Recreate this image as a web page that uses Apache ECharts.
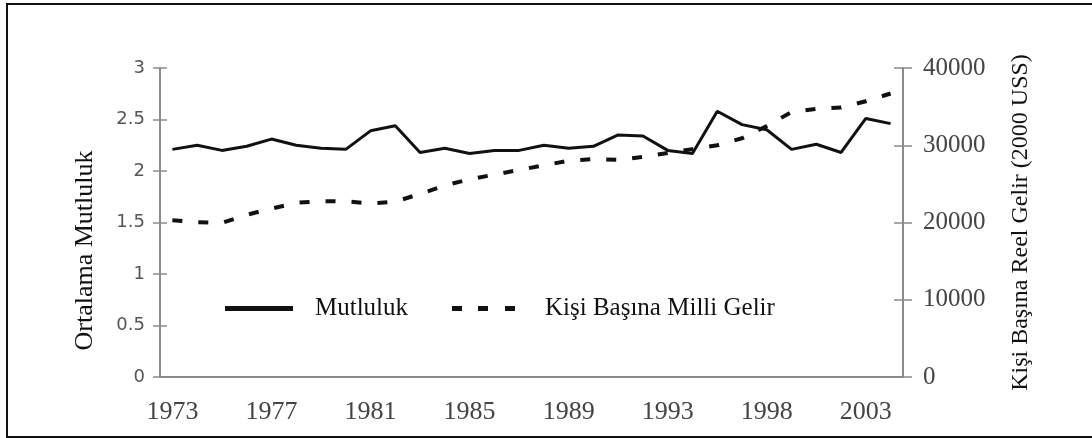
<!DOCTYPE html>
<html>
<head>
<meta charset="utf-8">
<script src="https://cdn.jsdelivr.net/npm/echarts@6/dist/echarts.min.js"></script>
<style>
  html, body { margin: 0; padding: 0; background: #fff; }
  #chart { width: 1092px; height: 438px; }
</style>
</head>
<body>
<div id="chart"></div>
<script>
  // yillar (some years are skipped in the source series)
  var years = ['1973','1974','1975','1976','1977','1978','1979','1980','1981','1982',
    '1983','1984','1985','1986','1987','1988','1989','1990','1991','1992',
    '1993','1994','1995','1996','1998','1999','2000','2001','2003','2004']
  // Ortalama Mutluluk
  var mutluluk = [2.21, 2.25, 2.20, 2.24, 2.31, 2.25, 2.22, 2.21, 2.39, 2.44,
    2.18, 2.22, 2.17, 2.20, 2.20, 2.25, 2.22, 2.24, 2.35, 2.34,
    2.20, 2.17, 2.58, 2.45, 2.40, 2.21, 2.26, 2.18, 2.51, 2.46]
  // Kisi basina milli gelir (2000 USS)
  var gelir = [20300, 20050, 19950, 21000, 21800, 22550, 22750, 22750, 22450, 22700,
    23700, 24800, 25600, 26200, 26800, 27400, 28000, 28200, 28100, 28500,
    29000, 29500, 30000, 30900, 32500, 34300, 34700, 34900, 35700, 36700]

  var leftTicks = { min: 0, max: 3, interval: 0.5 }
  var rightTicks = { min: 0, max: 40000, interval: 10000 }

  var axisGray = '#8a8a8a'
  var serif = '"Liberation Serif", "DejaVu Serif", serif'

  var myChart = echarts.init(document.getElementById('chart'))
  var option = {
    animation: false,
    backgroundColor: '#fff',
    graphic: [{
      type: 'rect',
      shape: { x: 7, y: 4, width: 1100, height: 433 },
      style: { fill: 'none', stroke: '#111', lineWidth: 2 }
    }],
    grid: {
      left: 160,
      right: 189,
      top: 68,
      bottom: 61
    },
    legend: [{
      data: ['Mutluluk'],
      left: 220,
      top: 291,
      itemWidth: 68,
      itemHeight: 5,
      icon: 'path://M0,0h68v5h-68z',
      textStyle: { fontFamily: serif, fontSize: 25, color: '#111', padding: [0, 0, 0, 17] }
    }, {
      data: ['Kişi Başına Milli Gelir'],
      left: 447,
      top: 291,
      itemWidth: 63,
      itemHeight: 5,
      icon: 'path://M0,0h10v5h-10z M26,0h10v5h-10z M53,0h10v5h-10z',
      textStyle: { fontFamily: serif, fontSize: 25, color: '#111', padding: [0, 0, 0, 25] }
    }],
    xAxis: {
      type: 'category',
      boundaryGap: true,
      data: years,
      axisLine: { lineStyle: { color: axisGray, width: 2 } },
      axisTick: { inside: true, length: 7, interval: 0, lineStyle: { color: axisGray, width: 1.5 } },
      axisLabel: { interval: 3, margin: 22, fontFamily: serif, fontSize: 26, color: '#444' }
    },
    yAxis: [{
      type: 'value',
      name: 'Ortalama Mutluluk',
      nameLocation: 'middle',
      nameGap: 62,
      nameTextStyle: { fontFamily: serif, fontSize: 26, color: '#111', padding: [0, 56, 0, 0] },
      min: leftTicks.min, max: leftTicks.max, interval: leftTicks.interval,
      axisLine: { show: true, lineStyle: { color: axisGray, width: 2 } },
      axisTick: { show: true, length: 7, lineStyle: { color: axisGray, width: 1.5 } },
      axisLabel: { margin: 15, fontFamily: '"DejaVu Sans", sans-serif', fontSize: 18, color: '#555' },
      splitLine: { show: false }
    }, {
      type: 'value',
      position: 'right',
      name: 'Kişi Başına Reel Gelir (2000 USS)',
      nameLocation: 'middle',
      nameGap: 106,
      nameRotate: 90,
      nameTextStyle: { fontFamily: serif, fontSize: 24, color: '#111' },
      min: rightTicks.min, max: rightTicks.max, interval: rightTicks.interval,
      axisLine: { show: true, lineStyle: { color: axisGray, width: 2 } },
      axisTick: { show: true, length: 9, lineStyle: { color: axisGray, width: 1.5 } },
      axisLabel: {
        margin: 20, fontFamily: serif, fontSize: 25, color: '#444',
        formatter: function (v) { return String(v) }
      },
      splitLine: { show: false }
    }, {
      // inner half of the crossing ticks, left
      type: 'value',
      position: 'left',
      min: leftTicks.min, max: leftTicks.max, interval: leftTicks.interval,
      axisLine: { show: false },
      axisTick: { show: true, inside: true, length: 7, lineStyle: { color: axisGray, width: 1.5 } },
      axisLabel: { show: false },
      splitLine: { show: false }
    }, {
      // inner half of the crossing ticks, right
      type: 'value',
      position: 'right',
      min: rightTicks.min, max: rightTicks.max, interval: rightTicks.interval,
      axisLine: { show: false },
      axisTick: { show: true, inside: true, length: 9, lineStyle: { color: axisGray, width: 1.5 } },
      axisLabel: { show: false },
      splitLine: { show: false }
    }],
    series: [{
      name: 'Mutluluk',
      type: 'line',
      yAxisIndex: 0,
      symbol: 'none',
      data: mutluluk,
      lineStyle: { color: '#111', width: 3, type: 'solid' },
      itemStyle: { color: '#111' }
    }, {
      name: 'Kişi Başına Milli Gelir',
      type: 'line',
      yAxisIndex: 1,
      symbol: 'none',
      data: gelir,
      lineStyle: { color: '#111', width: 4, type: [10, 16] },
      itemStyle: { color: '#111' }
    }]
  }
  myChart.setOption(option)
  window.onresize = function () {
    myChart.resize()
  }
</script>
</body>
</html>
